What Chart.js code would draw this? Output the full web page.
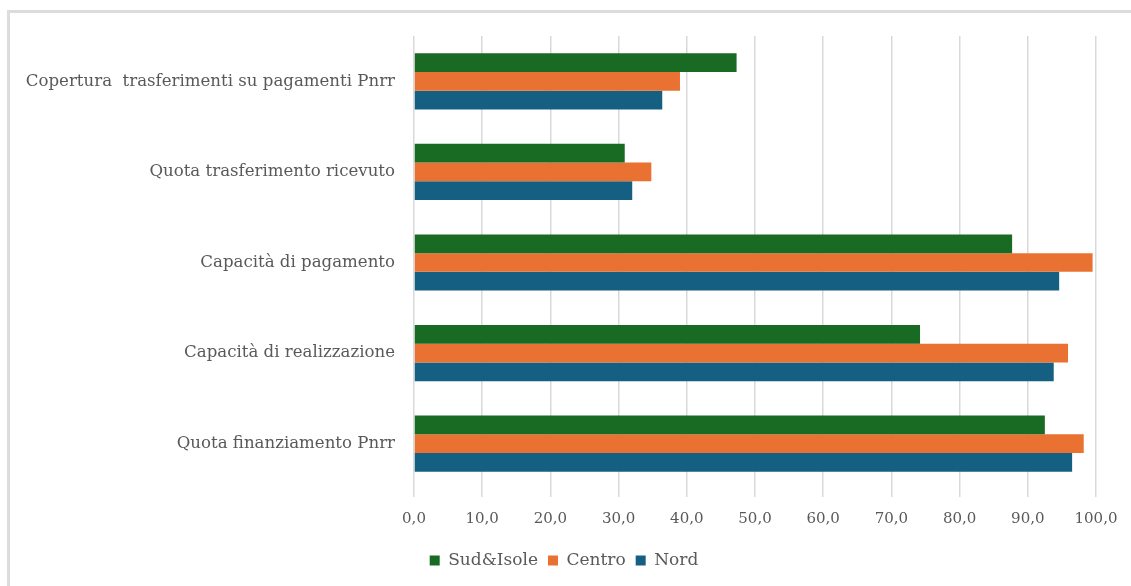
<!DOCTYPE html>
<html>
<head>
<meta charset="utf-8">
<script src="https://cdn.jsdelivr.net/npm/chart.js@4/dist/chart.umd.min.js"></script>
<style>
  html, body { margin: 0; padding: 0; background: #fff; overflow: hidden; }
  canvas { display: block; }
</style>
</head>
<body>
<canvas id="chart" width="1131" height="586"></canvas>
<script>
const categories = [
  "Copertura  trasferimenti su pagamenti Pnrr",
  "Quota trasferimento ricevuto",
  "Capacità di pagamento",
  "Capacità di realizzazione",
  "Quota finanziamento Pnrr"
];
const sudIsole = [47.3, 30.9, 87.7, 74.2, 92.5];
const centro   = [39.0, 34.8, 99.5, 95.9, 98.2];
const nord     = [36.4, 32.0, 94.6, 93.8, 96.5];
const xTicks = [0, 10, 20, 30, 40, 50, 60, 70, 80, 90, 100];

const FONT = "'DejaVu Serif', serif";
const GREY = '#595959';

// light frame (top + left edge) and a small nudge of the legend to the right
const extras = {
  id: 'extras',
  beforeDraw(chart) {
    const lg = chart.legend;
    if (lg && lg.legendHitBoxes) {
      const shift = 12;
      lg.left = lg._baseLeft ?? lg.left;
      lg._baseLeft = lg.left;
      lg.left += shift; lg.right = lg.left + lg.width;
      lg.legendHitBoxes.forEach(b => {
        b._baseLeft = b._baseLeft ?? b.left;
        b.left = b._baseLeft + shift;
      });
    }
    const c = chart.ctx;
    c.save();
    c.strokeStyle = '#dcdcdc';
    c.lineWidth = 3;
    c.beginPath();
    c.moveTo(7, 11.5); c.lineTo(chart.width, 11.5);
    c.moveTo(8.5, 10); c.lineTo(8.5, chart.height);
    c.stroke();
    c.restore();
  }
};

const ctx = document.getElementById('chart').getContext('2d');
new Chart(ctx, {
  type: 'bar',
  data: {
    labels: categories,
    datasets: [
      { label: 'Sud&Isole', data: sudIsole, backgroundColor: '#196B24' },
      { label: 'Centro', data: centro, backgroundColor: '#E97132' },
      { label: 'Nord', data: nord, backgroundColor: '#156082' }
    ]
  },
  plugins: [extras],
  options: {
    indexAxis: 'y',
    responsive: false,
    animation: false,
    barPercentage: 1,
    categoryPercentage: 0.62,
    layout: { padding: { left: 8, top: 36, right: 35, bottom: 7 } },
    plugins: {
      tooltip: { enabled: false },
      legend: {
        position: 'bottom',
        labels: {
          boxWidth: 10, boxHeight: 10, padding: 10,
          color: GREY,
          font: { family: FONT, size: 17 }
        }
      }
    },
    scales: {
      x: {
        min: 0, max: 100,
        afterBuildTicks: axis => { axis.ticks = xTicks.map(v => ({ value: v })); },
        afterFit: axis => { axis.height = 53; },
        grid: { color: '#d9d9d9', lineWidth: 1.5, tickLength: 8, drawTicks: true },
        border: { display: false },
        ticks: {
          color: GREY, padding: 13,
          font: { family: FONT, size: 15 },
          callback: v => v.toFixed(1).replace('.', ',')
        }
      },
      y: {
        afterFit: axis => { axis.width = 406; },
        grid: { display: false, drawTicks: false },
        border: { display: false },
        ticks: {
          color: GREY, padding: 19,
          font: { family: FONT, size: 16.6 }
        }
      }
    }
  }
});
</script>
</body>
</html>
